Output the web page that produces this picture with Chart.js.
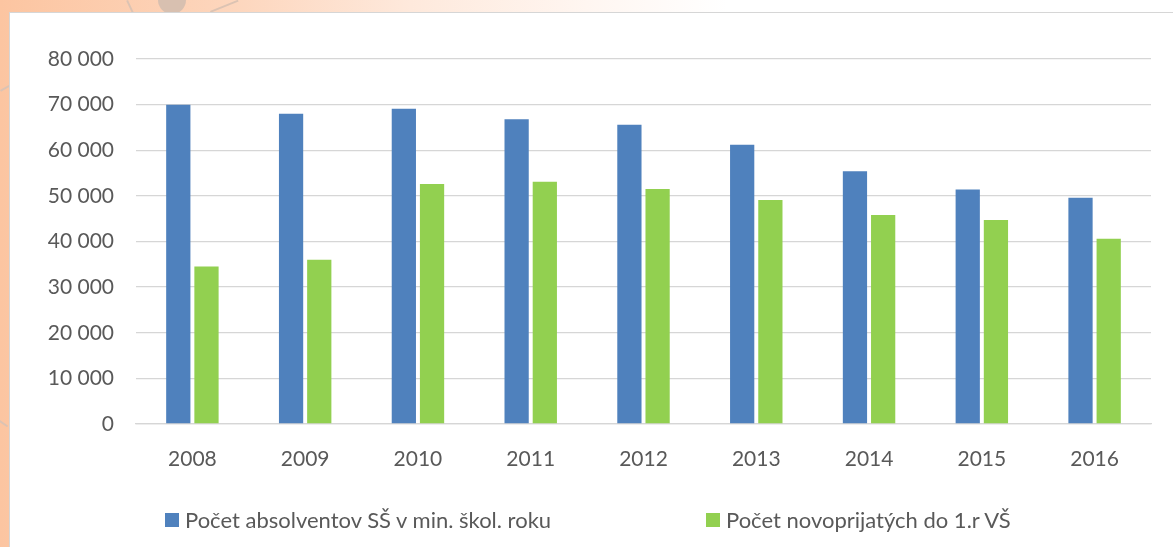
<!DOCTYPE html>
<html>
<head>
<meta charset="utf-8">
<script src="https://cdn.jsdelivr.net/npm/chart.js@4.4.1/dist/chart.umd.min.js"></script>
<style>
  html, body { margin: 0; padding: 0; }
  body {
    width: 1173px; height: 547px; overflow: hidden; position: relative;
    background: linear-gradient(90deg, #fcc5a1 0%, #fdd6bd 20%, #fee9dc 35%, #fff6f1 50%, #ffffff 62%);
    font-family: Lato, "Open Sans", sans-serif;
  }
  .deco-circle {
    position: absolute; left: 158px; top: -14px; width: 28px; height: 28px;
    border-radius: 50%; background: #d8c0b0;
  }
  .deco-line {
    position: absolute; height: 2px; background: #dcc3b3; transform-origin: 0 0;
  }
  .card {
    position: absolute; left: 9px; top: 12px; width: 1170px; height: 540px;
    background: #fff; border-left: 1px solid #d6d6d6; border-top: 1px solid #d6d6d6;
  }
  #chartWrap { position: absolute; left: 0; top: 0; width: 1163px; height: 535px; }
  .legend-item {
    position: absolute; top: 493px; display: flex; align-items: center;
    font-size: 22px; color: #595959; white-space: nowrap;
  }
  .legend-item span.box { width: 14px; height: 14px; margin-right: 6px; display: inline-block; }
</style>
</head>
<body>
<div class="deco-circle"></div>
<div class="deco-line" style="left:128px; top:0px; width:16px; transform: rotate(65deg);"></div>
<div class="deco-line" style="left:210px; top:11px; width:30px; transform: rotate(-22deg);"></div>
<div class="deco-line" style="left:0px; top:90px; width:10px; transform: rotate(-30deg);"></div>
<div class="deco-line" style="left:0px; top:420px; width:10px; transform: rotate(35deg);"></div>

<div class="card">
  <div id="chartWrap"><canvas id="barChart"></canvas></div>
  <div id="legend"></div>
</div>

<script>
// data
const years = ['2008', '2009', '2010', '2011', '2012', '2013', '2014', '2015', '2016'];
const absolventi = [70000, 68000, 69100, 66800, 65600, 61200, 55400, 51400, 49600];
const prijati = [34500, 36000, 52600, 53100, 51500, 49100, 45800, 44700, 40600];
const seriesNames = ['Počet absolventov SŠ v min. škol. roku', 'Počet novoprijatých do 1.r VŠ'];
const seriesColors = ['#4f81bd', '#92d050'];
const yTicks = [0, 10000, 20000, 30000, 40000, 50000, 60000, 70000, 80000];

function spaced(v) {
  return v.toString().replace(/\B(?=(\d{3})+(?!\d))/g, ' ');
}

const ctx = document.getElementById('barChart').getContext('2d');
const chart = new Chart(ctx, {
  type: 'bar',
  data: {
    labels: years,
    datasets: [
      { label: seriesNames[0], data: absolventi, backgroundColor: seriesColors[0] },
      { label: seriesNames[1], data: prijati, backgroundColor: seriesColors[1] }
    ]
  },
  options: {
    responsive: true,
    maintainAspectRatio: false,
    animation: false,
    layout: { padding: { top: 46, right: 22, bottom: 77, left: 0 } },
    datasets: { bar: { categoryPercentage: 0.5, barPercentage: 0.86 } },
    plugins: { legend: { display: false }, tooltip: { enabled: false } },
    scales: {
      x: {
        grid: { display: false },
        border: { color: '#d6d6d6', width: 1.3 },
        ticks: { color: '#595959', font: { family: 'Lato', size: 21 }, padding: 15 },
        afterFit: s => { s.height = 47; }
      },
      y: {
        min: 0, max: 80000,
        afterBuildTicks: s => { s.ticks = yTicks.map(v => ({ value: v })); },
        grid: { color: '#d6d6d6', lineWidth: 1.3, drawTicks: false },
        border: { display: false },
        ticks: {
          color: '#595959', font: { family: 'Lato', size: 21 }, padding: 22,
          callback: v => spaced(v)
        },
        afterFit: s => { s.width = 126; }
      }
    }
  }
});

// legend built from the datasets
const legendEl = document.getElementById('legend');
const legendLeft = [155, 696];
chart.data.datasets.forEach((ds, i) => {
  const item = document.createElement('div');
  item.className = 'legend-item';
  item.style.left = legendLeft[i] + 'px';
  item.innerHTML = '<span class="box" style="background:' + ds.backgroundColor + '"></span>' + ds.label;
  legendEl.appendChild(item);
});
</script>
</body>
</html>
